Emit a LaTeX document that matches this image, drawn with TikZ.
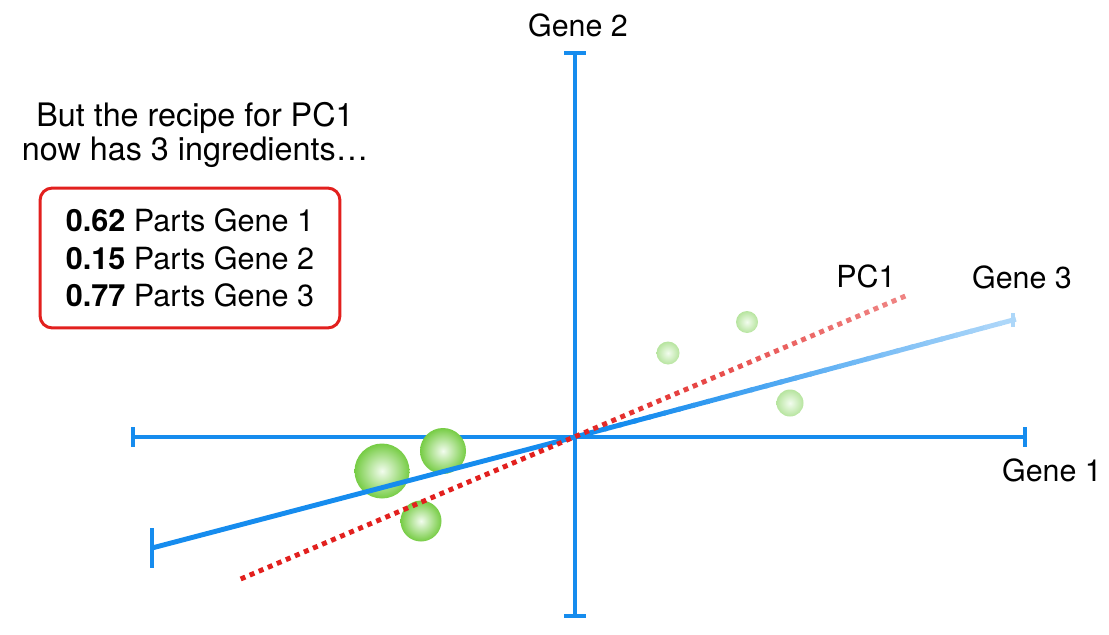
\documentclass[tikz,border=0pt]{standalone}
\usepackage{fontspec}
\setmainfont{TeX Gyre Heros}
\usetikzlibrary{calc}

\begin{document}
\begin{tikzpicture}[x=0.02cm, y=-0.02cm,
    axis/.style={line width=2.8pt, color=axis-blue},
    label/.style={font=\fontsize{17.3}{20}\selectfont, inner sep=0pt},
    recipe/.style={draw=pc-red, line width=1.7pt, rounded corners=7pt,
        minimum width=6cm, minimum height=2.8cm, align=left,
        font=\fontsize{17.4}{21.3}\selectfont}]
    % Definitions
    \definecolor{axis-blue}{RGB}{22, 140, 238}
    \definecolor{pc-red}{RGB}{226, 32, 30}
    \definecolor{cell-green}{RGB}{118, 204, 68}
    \definecolor{cell-pale}{RGB}{182, 228, 158}
    \definecolor{cell-light}{RGB}{242, 252, 238}

    \newcommand{\drawcell}[3]{
        \shade[inner color=cell-light, outer color=#3] (#1) circle (#2);
    }

    \useasboundingbox (0,0) rectangle (1109,635);

    % Axis ends
    \coordinate (O) at (575,437);
    \coordinate (g1L) at (133,437);
    \coordinate (g1R) at (1025,437);
    \coordinate (g2T) at (575,53);
    \coordinate (g2B) at (575,616);
    \coordinate (g3L) at (152,548);
    \coordinate (g3R) at (1013,320);
    \coordinate (pcL) at (243,578);
    \coordinate (pcR) at (903,297);

    % Gene 1 and Gene 2
    \draw[axis] (g1L) -- (g1R);
    \draw[axis] ($(g1L)+(0,-10)$) -- ($(g1L)+(0,10)$);
    \draw[axis] ($(g1R)+(0,-10)$) -- ($(g1R)+(0,10)$);
    \draw[axis] (g2T) -- (g2B);
    \draw[axis] ($(g2T)+(-11,0)$) -- ($(g2T)+(11,0)$);
    \draw[axis] ($(g2B)+(-11,0)$) -- ($(g2B)+(11,0)$);

    % Cells
    \drawcell{382,471}{27.5}{cell-green}
    \drawcell{443,451}{23}{cell-green}
    \drawcell{421,521}{20.5}{cell-green}
    \drawcell{668,353}{11.5}{cell-pale}
    \drawcell{747,322}{11}{cell-pale}
    \drawcell{790,403}{13.5}{cell-pale}

    % Gene 3
    \draw[axis] (g3L) -- (O);
    \draw[axis] ($(g3L)+(0,-20)$) -- ($(g3L)+(0,20)$);
    \foreach \i in {0,...,29} {
        \pgfmathtruncatemacro{\m}{(\i<4) ? 100 : 100-65*(\i-4)/25}
        \draw[axis, color=axis-blue!\m!white]
            ($(O)!{\i/30}!(g3R)$) -- ($(O)!{(\i+1.2)/30}!(g3R)$);
    }
    \draw[axis, color=axis-blue!35!white]
        ($(g3R)+(0,-7)$) -- ($(g3R)+(0,7)$);

    % PC1
    \foreach \k in {0,...,73} {
        \pgfmathsetmacro{\t}{\k/73}
        \pgfmathtruncatemacro{\m}{(\t<0.5) ? 100 : 100-90*(\t-0.5)}
        \draw[line width=2.8pt, color=pc-red!\m!white]
            ($(pcL)!{\t-0.0035}!(pcR)$) -- ($(pcL)!{\t+0.0035}!(pcR)$);
    }

    % Labels
    \node[label] (gene2) at (578,25) {Gene 2};
    \node[label] (gene1) at (1052,470) {Gene 1};
    \node[label] (gene3) at (1022,277) {Gene 3};
    \node[label] (pc1) at (866,276) {PC1};
    \node[label, align=center, font=\fontsize{18.4}{19.8}\selectfont]
        (intro) at (195,135) {But the recipe for PC1\\now has 3 ingredients\ldots};
    \node[recipe] (recipe) at (190,258)
        {\textbf{0.62} Parts Gene 1\\\textbf{0.15} Parts Gene 2\\\textbf{0.77} Parts Gene 3};
\end{tikzpicture}
\end{document}
